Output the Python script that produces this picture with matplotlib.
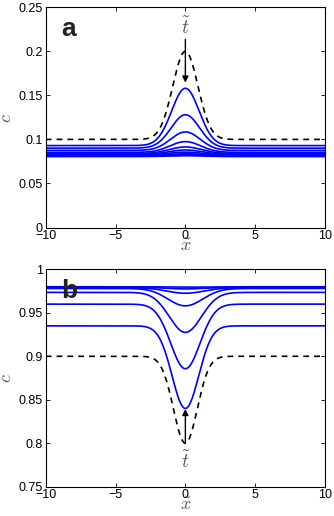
import numpy as np
import matplotlib
matplotlib.use("Agg")
import matplotlib.pyplot as plt

plt.rcParams['font.family'] = ['Liberation Sans', 'DejaVu Sans']
plt.rcParams['mathtext.fontset'] = 'cm'

# ---- data ----
# panel a: initial (dashed) and evolving (blue) profiles: baseline, peak value, width
a_init = dict(base=0.100, peak=0.200, width=0.90)
a_base = [0.0930, 0.0901, 0.0875, 0.0853, 0.0840, 0.0830, 0.0822, 0.0815, 0.0810, 0.0805]
a_peak = [0.158, 0.128, 0.1085, 0.0975, 0.0915, 0.0880, 0.0856, 0.0838, 0.0825, 0.0815]
a_width = [0.98, 1.02, 1.06, 1.10, 1.14, 1.18, 1.22, 1.26, 1.30, 1.34]

# panel b
b_init = dict(base=0.900, peak=0.800, width=0.85)
b_base = [0.935, 0.960, 0.9735, 0.9780, 0.9790, 0.9795, 0.9800]
b_peak = [0.840, 0.8857, 0.9275, 0.958, 0.9725, 0.9775, 0.9795]
b_width = [0.95, 1.05, 1.15, 1.25, 1.35, 1.45, 1.55]

x_ticks = [-10, -5, 0, 5, 10]
x_ticklabels = ['\u221210', '\u22125', '0', '5', '10']
a_yticks = [0, 0.05, 0.1, 0.15, 0.2, 0.25]
a_yticklabels = ['0', '0.05', '0.1', '0.15', '0.2', '0.25']
b_yticks = [0.75, 0.8, 0.85, 0.9, 0.95, 1.0]
b_yticklabels = ['0.75', '0.8', '0.85', '0.9', '0.95', '1']

x = np.linspace(-10, 10, 801)


def profile(base, peak, width):
    return base + (peak - base) * np.exp(-x**2 / (2 * width**2))


fig = plt.figure(figsize=(3.34, 5.16), dpi=100)
axa = fig.add_axes([0.137, 0.559, 0.836, 0.427])
axb = fig.add_axes([0.137, 0.0568, 0.836, 0.4212])

lab_col = '#555555'

for ax, init, bases, peaks, widths, yt, ytl, ylim, name in [
        (axa, a_init, a_base, a_peak, a_width, a_yticks, a_yticklabels, (0, 0.25), 'a'),
        (axb, b_init, b_base, b_peak, b_width, b_yticks, b_yticklabels, (0.75, 1.0), 'b')]:
    for b, p, w in zip(bases, peaks, widths):
        ax.plot(x, profile(b, p, w), color='#0000ff', lw=1.2)
    ax.plot(x, profile(init['base'], init['peak'], init['width']),
            color='black', lw=1.2, ls=(0, (3.5, 3)))
    ax.set_xlim(-10, 10)
    ax.set_ylim(*ylim)
    ax.set_xticks(x_ticks)
    ax.set_xticklabels(x_ticklabels)
    ax.set_yticks(yt)
    ax.set_yticklabels(ytl)
    ax.tick_params(direction='in', top=True, right=True, labelsize=9,
                   length=3, width=0.6, pad=2)
    for s in ax.spines.values():
        s.set_linewidth(0.8)
    ax.set_xlabel(r'$\tilde{x}$', fontsize=13, color=lab_col, labelpad=-3)
    ax.set_ylabel(r'$\bar{c}$', fontsize=13, color=lab_col, labelpad=2)
    ax.text(0.055, 0.955, name, transform=ax.transAxes, fontsize=19,
            fontweight='bold', va='top', ha='left', color='#222222')

# time arrows
axa.annotate('', xy=(0, 0.1645), xytext=(0, 0.2137),
             arrowprops=dict(arrowstyle='-|>', color='black', lw=1.0,
                             mutation_scale=9, shrinkA=0, shrinkB=0))
axa.text(0, 0.227, r'$\tilde{t}$', ha='center', va='center', fontsize=14, color=lab_col)
axb.annotate('', xy=(0, 0.8394), xytext=(0, 0.800),
             arrowprops=dict(arrowstyle='-|>', color='black', lw=1.0,
                             mutation_scale=9, shrinkA=0, shrinkB=0))
axb.text(0, 0.779, r'$\tilde{t}$', ha='center', va='center', fontsize=14, color=lab_col)

fig.savefig('out.png', dpi=100)
